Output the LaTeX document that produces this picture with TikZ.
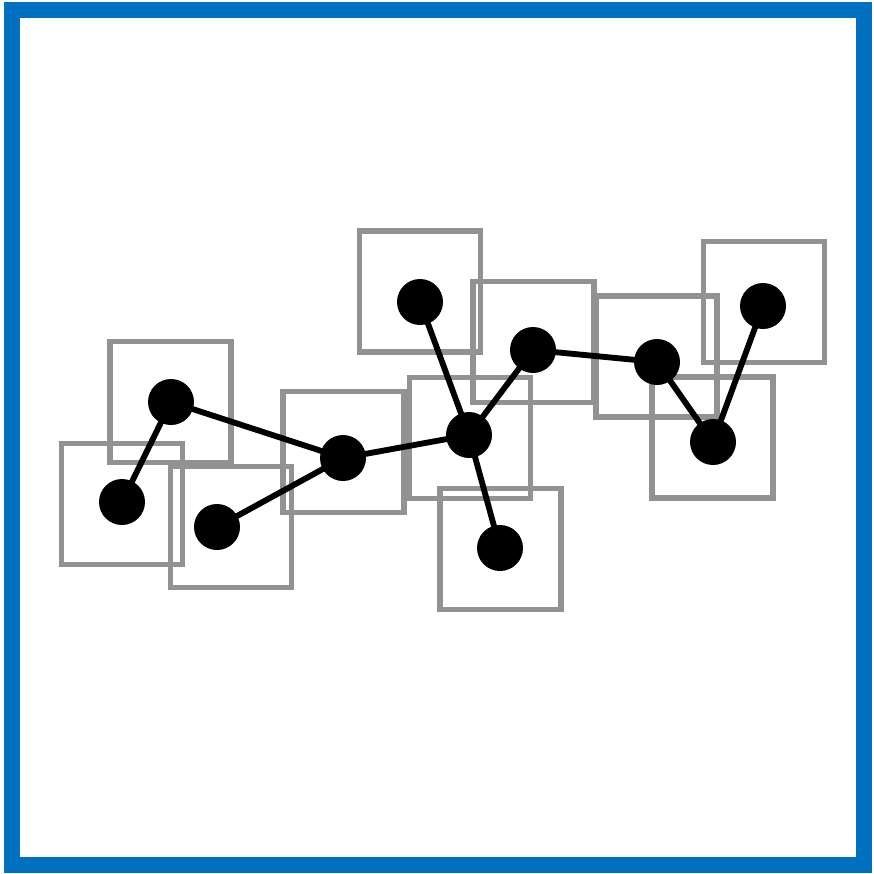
\documentclass[tikz,border=0pt]{standalone}
\usepackage{xcolor}
\usepackage{tikz}
\usetikzlibrary{positioning}
\definecolor{framblue}{HTML}{0070C0}
\definecolor{boxgray}{HTML}{929292}
\tikzset{
  gridbox/.style={draw=boxgray,line width=4.4pt,minimum size=3.63cm,inner sep=0pt,fill=none},
  atomnode/.style={circle,fill=black,minimum size=1.38cm,inner sep=0pt},
  bondline/.style={draw=black,line width=5pt},
}

\begin{document}
\begin{tikzpicture}[x=0.03cm,y=-0.03cm]
    \useasboundingbox (0,0) rectangle (874,873);
    \draw[framblue,line width=13.8pt] (12,10) rectangle (864,865);
    % boxes
    \node[gridbox] (b1) at (170.5,402) {};
    \node[gridbox] (b2) at (122,504) {};
    \node[gridbox] (b3) at (231,527) {};
    \node[gridbox] (b4) at (343.5,452) {};
    \node[gridbox] (b5) at (420,291.5) {};
    \node[gridbox] (b6) at (470,438) {};
    \node[gridbox] (b7) at (500.5,549) {};
    \node[gridbox] (b8) at (533.5,342) {};
    \node[gridbox] (b9) at (656.5,356.5) {};
    \node[gridbox] (b10) at (712.5,437.5) {};
    \node[gridbox] (b11) at (764,302) {};
    % atoms
    \node[atomnode] (a1) at (171,402) {};
    \node[atomnode] (a2) at (122,502) {};
    \node[atomnode] (a3) at (217,527) {};
    \node[atomnode] (a4) at (343,458) {};
    \node[atomnode] (a5) at (420,302) {};
    \node[atomnode] (a6) at (469,435) {};
    \node[atomnode] (a7) at (500,548) {};
    \node[atomnode] (a8) at (533,350) {};
    \node[atomnode] (a9) at (657,362) {};
    \node[atomnode] (a10) at (713,442) {};
    \node[atomnode] (a11) at (763,306) {};
    \draw[bondline] (a2.center)--(a1.center); \draw[bondline] (a1.center)--(a4.center);
    \draw[bondline] (a3.center)--(a4.center); \draw[bondline] (a4.center)--(a6.center);
    \draw[bondline] (a5.center)--(a6.center); \draw[bondline] (a6.center)--(a7.center);
    \draw[bondline] (a6.center)--(a8.center); \draw[bondline] (a8.center)--(a9.center);
    \draw[bondline] (a9.center)--(a10.center); \draw[bondline] (a10.center)--(a11.center);
  \end{tikzpicture}
\end{document}
